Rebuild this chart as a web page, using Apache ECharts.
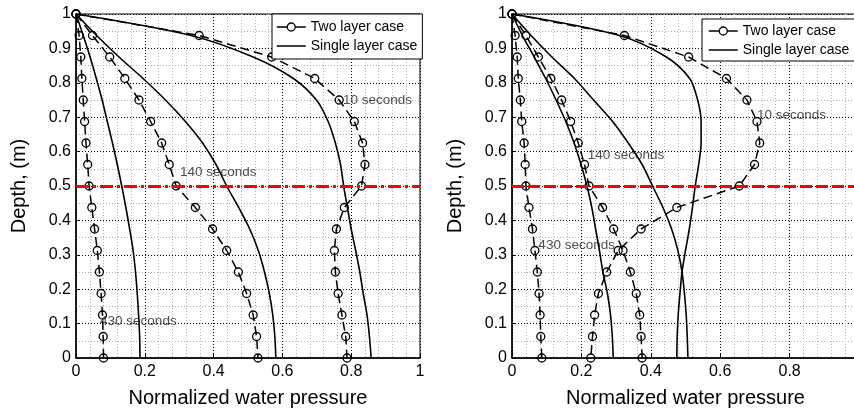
<!DOCTYPE html>
<html>
<head>
<meta charset="utf-8">
<script src="https://cdn.jsdelivr.net/npm/echarts@6/dist/echarts.min.js"></script>
<style>
  html, body { margin: 0; padding: 0; background: #fff; }
  #chart { width: 854px; height: 413px; }
</style>
</head>
<body>
<div id="chart"></div>
<script>
// Depth of each computed node (m)
const depth = [1, 0.9375, 0.875, 0.8125, 0.75, 0.6875, 0.625, 0.5625, 0.5,
               0.4375, 0.375, 0.3125, 0.25, 0.1875, 0.125, 0.0625, 0];

// Left panel: normalized pore water pressure at each depth
const leftTwo10   = [0, 0.358, 0.569, 0.694, 0.765, 0.809, 0.833, 0.840, 0.830, 0.780, 0.757, 0.751, 0.754, 0.762, 0.773, 0.784, 0.788];
const leftTwo140  = [0, 0.048, 0.098, 0.142, 0.183, 0.217, 0.249, 0.271, 0.291, 0.347, 0.397, 0.438, 0.472, 0.496, 0.515, 0.525, 0.529];
const leftTwo430  = [0, 0.009, 0.014, 0.017, 0.021, 0.025, 0.029, 0.034, 0.038, 0.046, 0.054, 0.062, 0.068, 0.073, 0.077, 0.079, 0.080];
const leftOne10   = [0, 0.335, 0.515, 0.632, 0.699, 0.733, 0.754, 0.769, 0.778, 0.789, 0.800, 0.813, 0.825, 0.835, 0.846, 0.853, 0.858];
const leftOne140  = [0, 0.060, 0.125, 0.195, 0.260, 0.318, 0.368, 0.407, 0.438, 0.473, 0.505, 0.530, 0.548, 0.562, 0.572, 0.578, 0.581];
const leftOne430  = [0, 0.021, 0.041, 0.059, 0.076, 0.091, 0.106, 0.120, 0.133, 0.145, 0.156, 0.166, 0.173, 0.178, 0.182, 0.185, 0.186];

// Right panel
const rightTwo10  = [0, 0.324, 0.509, 0.618, 0.677, 0.706, 0.714, 0.699, 0.655, 0.475, 0.372, 0.306, 0.273, 0.249, 0.238, 0.232, 0.227];
const rightTwo140 = [0, 0.040, 0.076, 0.112, 0.143, 0.169, 0.191, 0.209, 0.222, 0.261, 0.293, 0.320, 0.341, 0.358, 0.368, 0.372, 0.375];
const rightTwo430 = [0, 0.009, 0.015, 0.018, 0.024, 0.028, 0.035, 0.038, 0.040, 0.049, 0.059, 0.066, 0.073, 0.078, 0.081, 0.083, 0.086];
const rightOne10  = [0, 0.310, 0.445, 0.512, 0.535, 0.545, 0.545, 0.538, 0.528, 0.520, 0.511, 0.500, 0.490, 0.484, 0.479, 0.476, 0.475];
const rightOne140 = [0, 0.055, 0.115, 0.180, 0.235, 0.290, 0.335, 0.375, 0.405, 0.435, 0.460, 0.478, 0.490, 0.497, 0.502, 0.505, 0.507];
const rightOne430 = [0, 0.030, 0.064, 0.097, 0.127, 0.155, 0.179, 0.199, 0.216, 0.230, 0.241, 0.252, 0.262, 0.275, 0.284, 0.289, 0.292];

// Time labels: [text, pressure, depth]
const leftNotes  = [['10 seconds', 0.776, 0.75], ['140 seconds', 0.302, 0.54], ['430 seconds', 0.07, 0.106]];
const rightNotes = [['10 seconds', 0.706, 0.706], ['140 seconds', 0.218, 0.588], ['430 seconds', 0.076, 0.328]];

// Layer interface depth (m)
const interfaceDepth = 0.5;

const TWO = 'Two layer case';
const ONE = 'Single layer case';
const FONT = '"Liberation Sans", Arial, Helvetica, sans-serif';

const pairs = vals => vals.map((v, i) => [v, depth[i]]);

function twoLayer(vals, g) {
  return {
    type: 'line', name: TWO, xAxisIndex: g, yAxisIndex: g,
    data: pairs(vals),
    symbol: 'circle', symbolSize: 8, showSymbol: true,
    itemStyle: { color: 'transparent', borderColor: '#000', borderWidth: 1.3 },
    lineStyle: { color: '#000', width: 1.5, type: [9, 5] },
    emphasis: { disabled: true }, silent: true, z: 3
  };
}
function oneLayer(vals, g) {
  return {
    type: 'line', name: ONE, xAxisIndex: g, yAxisIndex: g,
    data: pairs(vals),
    symbol: 'none', smooth: 0.3,
    itemStyle: { color: '#000' },
    lineStyle: { color: '#000', width: 1.6, type: 'solid' },
    emphasis: { disabled: true }, silent: true, z: 3
  };
}
function notes(list, g) {
  return {
    type: 'scatter', xAxisIndex: g, yAxisIndex: g,
    data: list.map(n => ({ value: [n[1], n[2]], name: n[0] })),
    symbolSize: 0, silent: true, z: 5,
    label: {
      show: true, position: 'right', distance: 0,
      formatter: p => p.name,
      fontFamily: FONT, fontSize: 13.5, color: '#222'
    }
  };
}
function interfaceLine(g, dash) {
  return {
    type: 'line', xAxisIndex: g, yAxisIndex: g, data: [], silent: true, z: 4,
    markLine: {
      silent: true, symbol: ['none', 'none'], animation: false,
      label: { show: false },
      lineStyle: { color: '#ff0000', width: 3, type: dash },
      data: [{ yAxis: interfaceDepth }]
    }
  };
}

const gridLine = { show: true, lineStyle: { color: '#000', width: 1, type: [1, 2] } };
const minorLine = { show: true, lineStyle: { color: '#b0b0b0', width: 1, type: [1, 2] } };

function xAxis(g) {
  return {
    type: 'value', gridIndex: g, min: 0, max: 1, interval: 0.2,
    name: 'Normalized water pressure', nameLocation: 'middle', nameGap: 30,
    nameTextStyle: { fontFamily: FONT, fontSize: 20, color: '#000' },
    axisLine: { show: true, onZero: false, lineStyle: { color: '#000', width: 1.5 } },
    axisTick: { show: true, inside: true, length: 4, lineStyle: { color: '#000' } },
    axisLabel: { fontFamily: FONT, fontSize: 16, color: '#000', margin: 6, hideOverlap: false },
    splitLine: gridLine,
    minorTick: { show: false, splitNumber: 5 },
    minorSplitLine: minorLine
  };
}
function yAxis(g) {
  return {
    type: 'value', gridIndex: g, min: 0, max: 1, interval: 0.1,
    name: 'Depth, (m)', nameLocation: 'middle', nameGap: 47,
    nameTextStyle: { fontFamily: FONT, fontSize: 20, color: '#000' },
    axisLine: { show: true, onZero: false, lineStyle: { color: '#000', width: 1.5 } },
    axisTick: { show: true, inside: true, length: 4, lineStyle: { color: '#000' } },
    axisLabel: { fontFamily: FONT, fontSize: 16, color: '#000', margin: 5 },
    splitLine: gridLine,
    minorTick: { show: false, splitNumber: 2 },
    minorSplitLine: minorLine
  };
}
function legend(left, top, padding, gap) {
  return {
    data: [
      { name: TWO, itemStyle: { color: '#fff', borderColor: '#000', borderWidth: 1.3 } },
      { name: ONE, itemStyle: { opacity: 0 } }
    ],
    orient: 'vertical', left: left, top: top,
    padding: padding, itemGap: gap, itemWidth: 29, itemHeight: 10,
    selectedMode: false,
    backgroundColor: '#fff', borderColor: '#000', borderWidth: 1, borderRadius: 0,
    textStyle: { fontFamily: FONT, fontSize: 14, color: '#000' },
    lineStyle: { color: '#000', width: 1.5, type: 'solid' }
  };
}

const chart = echarts.init(document.getElementById('chart'), null, { renderer: 'canvas' });
chart.setOption({
  animation: false,
  backgroundColor: '#fff',
  textStyle: { fontFamily: FONT },
  grid: [
    { left: 76, top: 14, width: 344, height: 344, outerBoundsMode: 'none', containLabel: false,
      show: true, borderColor: '#000', borderWidth: 1, backgroundColor: 'transparent' },
    { left: 512, top: 14, width: 347, height: 344, outerBoundsMode: 'none', containLabel: false,
      show: true, borderColor: '#000', borderWidth: 1, backgroundColor: 'transparent' }
  ],
  xAxis: [xAxis(0), xAxis(1)],
  yAxis: [yAxis(0), yAxis(1)],
  legend: [
    legend(272, 14, [6, 5, 6, 4], 5),
    legend(702, 19, [5, 12, 4, 6], 5)
  ],
  series: [
    twoLayer(leftTwo10, 0), twoLayer(leftTwo140, 0), twoLayer(leftTwo430, 0),
    oneLayer(leftOne10, 0), oneLayer(leftOne140, 0), oneLayer(leftOne430, 0),
    twoLayer(rightTwo10, 1), twoLayer(rightTwo140, 1), twoLayer(rightTwo430, 1),
    oneLayer(rightOne10, 1), oneLayer(rightOne140, 1), oneLayer(rightOne430, 1),
    interfaceLine(0, [13, 4, 3, 4]),
    interfaceLine(1, [12, 4]),
    notes(leftNotes, 0), notes(rightNotes, 1)
  ]
});
</script>
</body>
</html>
